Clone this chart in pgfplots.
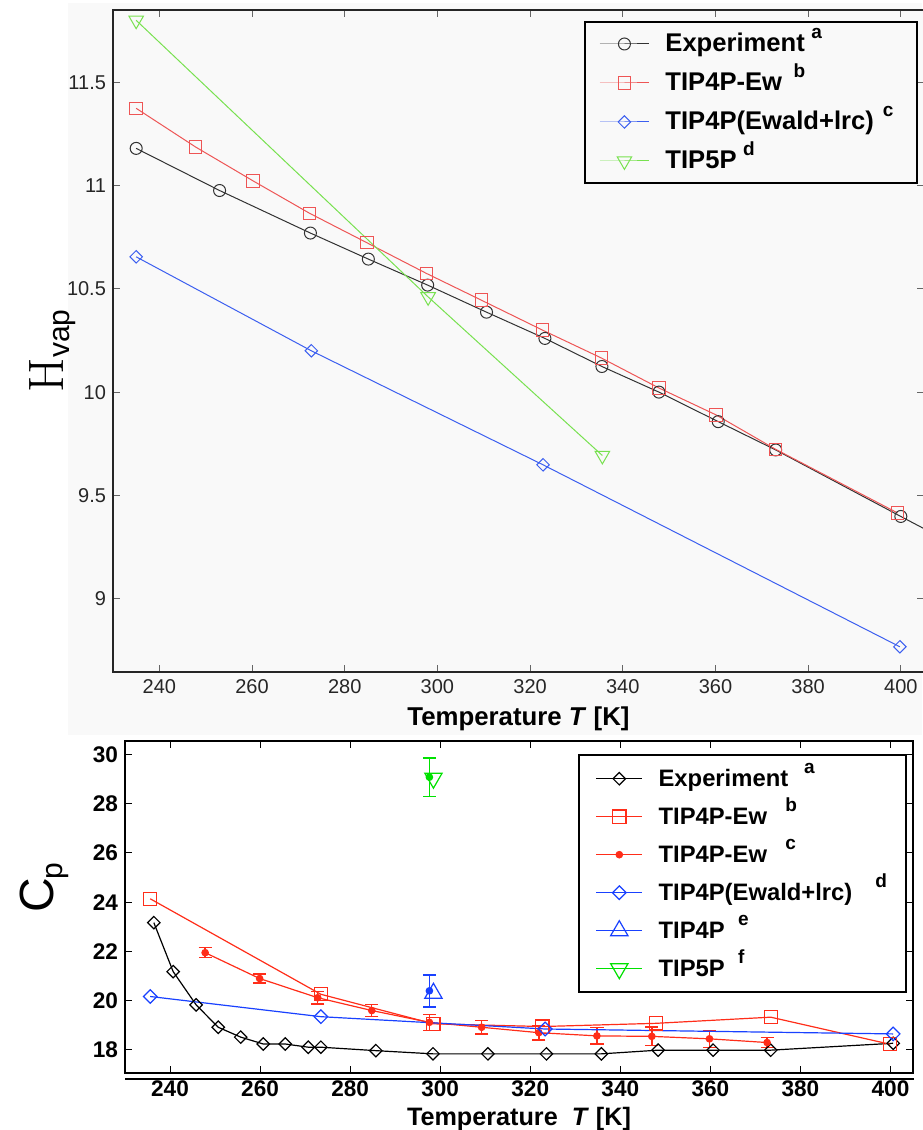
\documentclass[border=0pt]{standalone}
\usepackage[no-math]{fontspec}
\setmainfont{Liberation Sans}
\usepackage{pgfplots}
\pgfplotsset{compat=1.18}

\definecolor{bgcol}{RGB}{249,249,249}
\definecolor{tblack}{RGB}{50,50,50}
\definecolor{tred}{RGB}{238,85,85}
\definecolor{tblue}{RGB}{60,95,240}
\definecolor{tgreen}{RGB}{120,225,80}
\definecolor{bred}{RGB}{255,45,25}
\definecolor{bblue}{RGB}{25,65,255}
\definecolor{bgreen}{RGB}{0,225,0}

% superscript reference letters in the legends
\newcommand{\sps}[2]{\hspace{#1}\raisebox{6.5pt}{\fontsize{9.5}{10}\selectfont #2}}

\begin{document}
\begin{tikzpicture}
% grey backdrop of the upper panel (1px = 0.5pt)
\fill[bgcol] (34pt,197.5pt) rectangle (461pt,563.5pt);

% ---------------- upper panel: H_vap ----------------
\begin{axis}[
  at={(56.5pt,229pt)}, anchor=south west, scale only axis,
  width=405.5pt, height=331pt,
  xmin=230, xmax=405, ymin=8.645, ymax=11.85,
  xtick={240,260,...,400}, ytick={9,9.5,10,10.5,11,11.5},
  tick align=inside, major tick length=3.5pt,
  every tick/.style={black!60, line width=0.5pt},
  axis line style={line width=1pt, black!85},
  axis background/.style={fill=bgcol},
  /pgf/number format/assume math mode=true,
  tick label style={font=\fontsize{10}{12}\selectfont, black!85},
  xlabel={\textbf{Temperature \textit{T} [K]}},
  xlabel style={font=\fontsize{12.9}{14}\selectfont},
  legend cell align=left,
  legend style={at={(0.5813,0.9834)}, anchor=north west, draw=black, line width=1pt,
    fill=bgcol, font=\bfseries\fontsize{12.8}{14}\selectfont,
    inner xsep=7pt, inner ysep=5pt, row sep=7.5pt, column sep=8pt,
    nodes={inner xsep=0pt, inner ysep=0pt, text height=10pt, text depth=2pt,
      text width=119pt, align=left}},
  legend image code/.code={\draw[mark repeat=2,mark phase=2,#1]
    plot coordinates {(0pt,0pt) (12.25pt,0pt) (24.5pt,0pt)};},
]
\addplot[tblack, line width=0.5pt, mark=o, mark size=3pt] coordinates {
  (235,11.18) (253,10.976) (272.6,10.77) (285.1,10.644) (297.9,10.518)
  (310.6,10.387) (323.2,10.26) (335.5,10.124) (347.8,10.0) (360.6,9.857)
  (373,9.72) (400,9.398) (410,9.28)};
\addlegendentry{Experiment\sps{3.3pt}{a}}
\addplot[tred, line width=0.5pt, mark=square, mark size=3.1pt] coordinates {
  (235,11.374) (247.8,11.187) (260.2,11.023) (272.4,10.866) (284.8,10.723)
  (297.6,10.575) (309.5,10.445) (322.7,10.30) (335.4,10.165) (347.8,10.02)
  (360.1,9.89) (373,9.723) (399.3,9.415)};
\addlegendentry{TIP4P-Ew\sps{5.8pt}{b}}
\addplot[tblue, line width=0.5pt, mark=square, mark options={rotate=45}, mark size=2.2pt] coordinates {
  (235,10.655) (272.8,10.2) (322.8,9.648) (399.8,8.767)};
\addlegendentry{TIP4P(Ewald+lrc)\sps{4.5pt}{c}}
\addplot[tgreen, line width=0.5pt, mark=triangle, mark options={rotate=180}, mark size=4.2pt] coordinates {
  (235,11.80) (298,10.461) (335.6,9.693)};
\addlegendentry{TIP5P\sps{3.3pt}{d}}
\end{axis}

% ---------------- lower panel: C_p ----------------
\begin{axis}[
  at={(62.5pt,28.35pt)}, anchor=south west, scale only axis,
  width=394pt, height=166.15pt,
  xmin=230, xmax=405, ymin=17.05, ymax=30.55,
  xtick={240,260,...,400}, ytick={18,20,...,30},
  tick align=inside, major tick length=3.5pt,
  every tick/.style={black, line width=0.5pt},
  axis line style={line width=1pt, black},
  /pgf/number format/assume math mode=true,
  tick label style={font=\bfseries\fontsize{11.3}{13}\selectfont},
  xlabel={\textbf{Temperature \ \textit{T} [K]}},
  xlabel style={font=\fontsize{12.6}{14}\selectfont, yshift=1.5pt},
  legend cell align=left,
  legend style={at={(0.5745,0.96)}, anchor=north west, draw=black, line width=1pt,
    fill=white, font=\bfseries\fontsize{11.9}{14}\selectfont,
    inner xsep=8.5pt, inner ysep=5.7pt, row sep=7pt, column sep=7.85pt,
    nodes={inner xsep=0pt, inner ysep=0pt, text height=10pt, text depth=2pt,
      text width=115pt, align=left}},
  legend image code/.code={\draw[mark repeat=2,mark phase=2,#1]
    plot coordinates {(0pt,0pt) (11.5pt,0pt) (23pt,0pt)};},
]
\addplot[black, line width=0.6pt, mark=square, mark options={rotate=45}, mark size=2.2pt] coordinates {
  (236.4,23.17) (240.7,21.18) (245.8,19.83) (250.7,18.92) (255.7,18.52)
  (260.7,18.24) (265.6,18.24) (270.7,18.11) (273.5,18.11) (285.7,17.97)
  (298.4,17.84) (310.6,17.84) (323.6,17.84) (335.8,17.84) (348.4,17.99)
  (360.6,17.99) (373.4,17.99) (400.6,18.27)};
\addlegendentry{Experiment\sps{8pt}{a}}
\addplot[bred, line width=0.6pt, mark=square, mark size=3.3pt] coordinates {
  (235.6,24.14) (273.5,20.26) (298.5,19.06) (322.7,18.95) (347.9,19.08)
  (373.4,19.33) (399.9,18.23)};
\addlegendentry{TIP4P-Ew\sps{9.2pt}{b}}
\addplot[bred, line width=0.6pt, mark=*, mark size=1.6pt,
  error bars/.cd, y dir=both, y explicit,
  error bar style={line width=0.7pt},
  error mark options={rotate=90, mark size=3.3pt, line width=0.7pt}] coordinates {
  (247.8,21.95) +- (0,0.2)  (259.9,20.9) +- (0,0.18) (272.8,20.12) +- (0,0.25)
  (284.8,19.6) +- (0,0.25)  (297.6,19.12) +- (0,0.33) (309.2,18.92) +- (0,0.27)
  (321.9,18.7) +- (0,0.3)   (334.8,18.57) +- (0,0.33) (347,18.55) +- (0,0.38)
  (359.8,18.45) +- (0,0.34) (372.6,18.3) +- (0,0.2)};
\addlegendentry{TIP4P-Ew\sps{9.2pt}{c}}
\addplot[bblue, line width=0.6pt, mark=square, mark options={rotate=45}, mark size=2.4pt] coordinates {
  (235.6,20.17) (273.5,19.35) (323.3,18.85) (400.6,18.65)};
\addlegendentry{TIP4P(Ewald+lrc)\sps{11.5pt}{d}}
\addplot[bblue, line width=0.6pt, mark=triangle, mark size=5pt] coordinates {(298.5,20.3)};
\addlegendentry{TIP4P\sps{6.7pt}{e}}
\addplot[bgreen, line width=0.6pt, mark=triangle, mark options={rotate=180}, mark size=5pt] coordinates {(298.5,29.04)};
\addlegendentry{TIP5P\sps{6.7pt}{f}}
\addplot[bblue, forget plot, line width=0.6pt, mark=*, mark size=1.6pt,
  error bars/.cd, y dir=both, y explicit,
  error bar style={line width=0.7pt},
  error mark options={rotate=90, mark size=3.3pt, line width=0.7pt}] coordinates {
  (297.6,20.4) +- (0,0.65)};
\addplot[bgreen, forget plot, line width=0.6pt, mark=*, mark size=1.6pt,
  error bars/.cd, y dir=both, y explicit,
  error bar style={line width=0.7pt},
  error mark options={rotate=90, mark size=3.3pt, line width=0.7pt}] coordinates {
  (297.6,29.08) +- (0,0.78)};
\end{axis}

% axis labels
\node[rotate=90, anchor=center] at (26.25pt,389.5pt)
  {{\fontsize{28}{30}\selectfont$\mathrm{H}$}\raisebox{-3pt}{\fontsize{15}{16}\selectfont vap}};
\node[rotate=90, anchor=center] at (22pt,121.25pt)
  {{\fontsize{24}{26}\selectfont C}\kern-0.5pt\raisebox{-4.5pt}{\fontsize{15}{16}\selectfont p}};

% edge of a further panel below
\draw[line width=1pt] (62.5pt,25.35pt) -- (457pt,25.35pt);

\pgfresetboundingbox
\path[use as bounding box] (0pt,0pt) rectangle (461pt,565pt);
\end{tikzpicture}
\end{document}
